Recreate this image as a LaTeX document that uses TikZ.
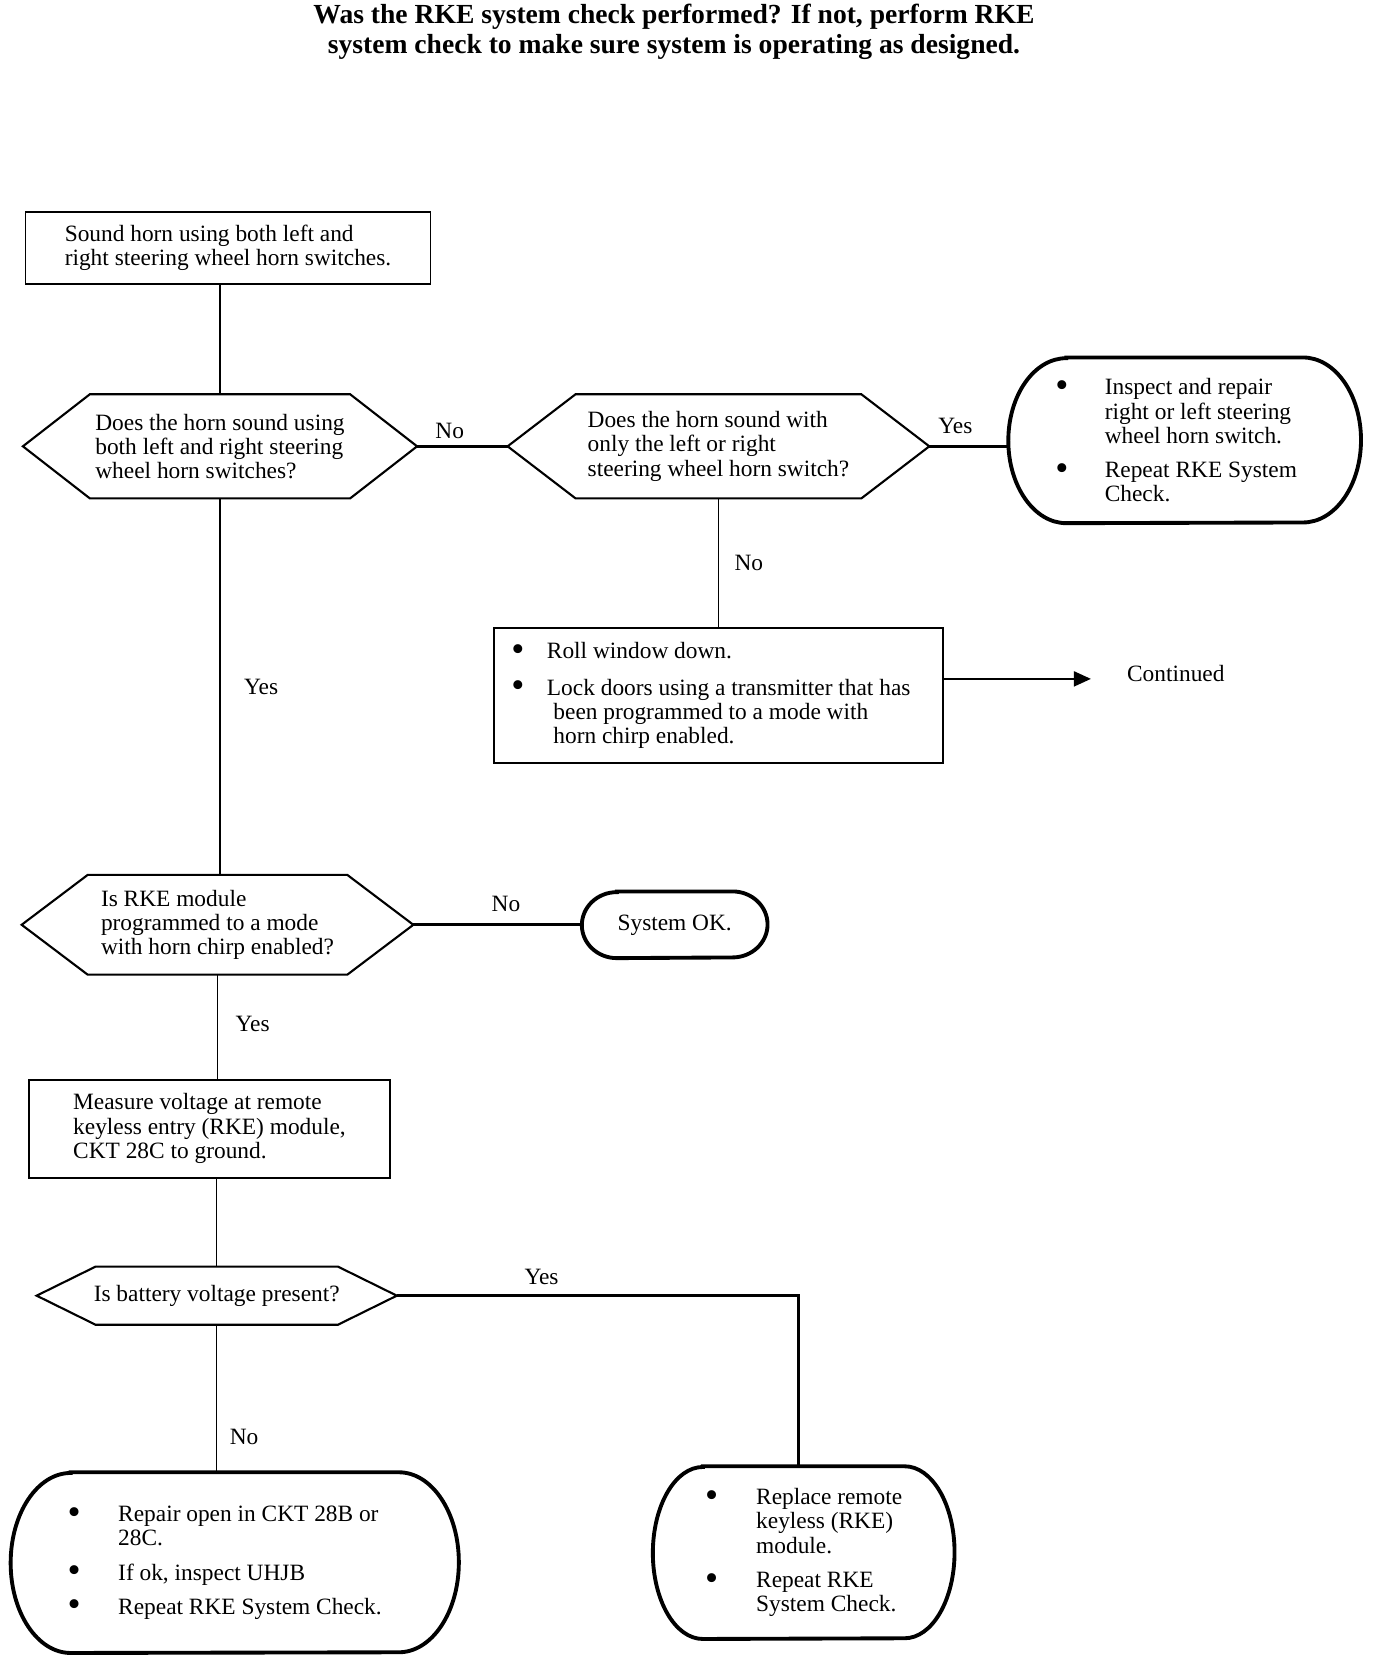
\documentclass[tikz,border=0pt]{standalone}
\usepackage{fontspec}
\setmainfont{Liberation Serif}
\usetikzlibrary{calc}
\usetikzlibrary{positioning}
\usetikzlibrary{arrows.meta}

\newcommand{\dotItem}[1]{\makebox[#1][l]{\raisebox{-0.25ex}{\scalebox{1.6}{\textbullet}}}}

\begin{document}
\begin{tikzpicture} [node distance = 2cm, font=\fontsize{13.3pt}{13.8pt}\selectfont]
            % Set primary nodes
            \tikzset{
                actionNode/.style={
                        draw,
                        rectangle,
                        line width=1.1pt,
                        align=left
                    }
            }
            \tikzset{
                decisionNode/.style n args={3}{
                        rectangle,
                        minimum width=#1,
                        minimum height=#2,
                        align=left,
                        append after command={\pgfextra{
                            \draw[line width=1.2pt] (\tikzlastnode.west) -- ([xshift=#3]\tikzlastnode.north west)
                                -- ([xshift=-#3]\tikzlastnode.north east) -- (\tikzlastnode.east)
                                -- ([xshift=-#3]\tikzlastnode.south east) -- ([xshift=#3]\tikzlastnode.south west) -- cycle;}}
                    }
            }
            \tikzset{
                terminalNode/.style n args={3}{
                        rectangle,
                        minimum width=#1,
                        minimum height=#2,
                        align=left,
                        append after command={\pgfextra{
                            \draw[line width=2.2pt] ([xshift=#3]\tikzlastnode.north west) -- ([xshift=-#3]\tikzlastnode.north east)
                                arc[start angle=90, end angle=-90, x radius=#3, y radius=#2/2]
                                -- ([xshift=#3]\tikzlastnode.south west)
                                arc[start angle=270, end angle=90, x radius=#3, y radius=#2/2] -- cycle;}}
                    }
            }
            % Configure lines
            \tikzset{
                flowLine/.style={line width=0.85pt},
                heavyLine/.style={line width=1.6pt}
            }
            \tikzstyle{contArrow} = [line width=1.1pt, -{Triangle[length=0.34cm, width=0.3cm]}]
            \useasboundingbox (0,0) rectangle (27.52,-33.24);
            % Placing nodes
            \node[font=\fontsize{15.7pt}{17pt}\selectfont\bfseries, align=center](title) at (13.48,-0.64){Was the RKE system check performed? If not, perform RKE\\system check to make sure system is operating as designed.};
            \node[actionNode, minimum width=8.1cm, minimum height=1.45cm](soundHorn) at (4.56,-4.96){Sound horn using both left and\\right steering wheel horn switches.};
            \node[decisionNode={7.87cm}{2.07cm}{1.34cm}, below = 2.18cm of soundHorn, xshift = -0.16cm](bothSwitches){Does the horn sound using\\both left and right steering\\wheel horn switches?};
            \node[decisionNode={8.42cm}{2.07cm}{1.36cm}, right = 1.81cm of bothSwitches](oneSwitch){Does the horn sound with\\only the left or right\\steering wheel horn switch?};
            \node[terminalNode={7.04cm}{3.3cm}{1.16cm}, right = 1.58cm of oneSwitch, yshift = 0.12cm](repairSwitch){\dotItem{0.99cm}Inspect and repair\\\hspace*{0.99cm}right or left steering\mbox{\hspace{0.34cm}}\\\hspace*{0.99cm}wheel horn switch.\\[0.2cm]\dotItem{0.99cm}Repeat RKE System\mbox{\hspace{0.34cm}}\\\hspace*{0.99cm}Check.};
            \node[actionNode, minimum width=8.98cm, minimum height=2.7cm, below = 2.57cm of oneSwitch](rollWindow){\dotItem{0.71cm}Roll window down.\\[0.25cm]\dotItem{0.71cm}Lock doors using a transmitter that has\mbox{\hspace{0.3cm}}\\\hspace*{0.84cm}been programmed to a mode with\\\hspace*{0.84cm}horn chirp enabled.};
            \node[right = 3.54cm of rollWindow, yshift = 0.43cm](continued){Continued};
            \node[decisionNode={7.82cm}{1.98cm}{1.32cm}, below = 7.53cm of bothSwitches, xshift = -0.05cm](hornChirp){Is RKE module\\programmed to a mode\\with horn chirp enabled?};
            \node[terminalNode={3.7cm}{1.32cm}{0.7cm}, right = 3.37cm of hornChirp](systemOK){System OK.};
            \node[actionNode, minimum width=7.22cm, minimum height=1.96cm, below = 2.08cm of hornChirp, xshift = -0.16cm](measureVoltage){Measure voltage at remote\\keyless entry (RKE) module,\\CKT 28C to ground.};
            \node[decisionNode={7.19cm}{1.15cm}{1.18cm}, below = 1.76cm of measureVoltage, xshift = 0.145cm](batteryVoltage){Is battery voltage present?};
            \node[terminalNode={8.95cm}{3.6cm}{1.2cm}, below = 2.95cm of batteryVoltage, xshift = 0.36cm](repairOpen){\dotItem{1.01cm}Repair open in CKT 28B or\\\hspace*{1.01cm}28C.\\[0.2cm]\dotItem{1.01cm}If ok, inspect UHJB\\[0.2cm]\dotItem{1.01cm}Repeat RKE System Check.\hspace*{0.4cm}};
            \node[terminalNode={6.02cm}{3.44cm}{1.0cm}, right = 3.88cm of repairOpen, yshift = 0.2cm](replaceModule){\dotItem{1.02cm}Replace remote\\\hspace*{1.02cm}keyless (RKE)\\\hspace*{1.02cm}module.\\[0.2cm]\dotItem{1.02cm}Repeat RKE\\\hspace*{1.02cm}System Check.};
            % Draw connectors
            \draw[flowLine](soundHorn.south -| bothSwitches.north) -- (bothSwitches.north);
            \draw[heavyLine](bothSwitches.east) -- node[above, pos=0.36]{No} (oneSwitch.west);
            \draw[heavyLine](oneSwitch.east) -- node[above, pos=0.33, yshift=0.1cm]{Yes} (oneSwitch.east -| repairSwitch.west);
            \draw[flowLine](oneSwitch.south) -- node[right, xshift=0.19cm]{No} (rollWindow.north);
            \draw[contArrow]([yshift=-0.1cm]continued.west -| rollWindow.east) -- ([xshift=-0.6cm, yshift=-0.1cm]continued.west);
            \draw[flowLine](bothSwitches.south) -- node[right, xshift=0.35cm]{Yes} (bothSwitches.south |- hornChirp.north);
            \draw[heavyLine](hornChirp.east) -- node[above, pos=0.55, yshift=0.12cm]{No} (systemOK.west);
            \draw[flowLine](hornChirp.south) -- node[right, pos=0.47, xshift=0.23cm]{Yes} (hornChirp.south |- measureVoltage.north);
            \draw[flowLine](batteryVoltage.north |- measureVoltage.south) -- (batteryVoltage.north);
            \draw[heavyLine](batteryVoltage.east) -| node[above, pos=0.18, yshift=0.07cm]{Yes} ([xshift=-0.1cm]replaceModule.north);
            \draw[flowLine](batteryVoltage.south) -- node[right, pos=0.76, xshift=0.13cm]{No} (batteryVoltage.south |- repairOpen.north);

        \end{tikzpicture}
\end{document}
